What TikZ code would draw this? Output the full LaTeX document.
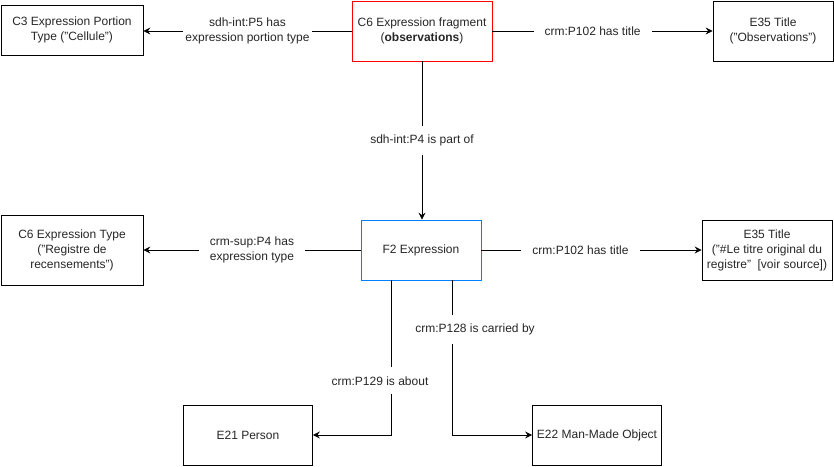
\documentclass[tikz,border=0pt]{standalone}
\usepackage{fontspec}
\setmainfont{Liberation Sans}
\usetikzlibrary{arrows.meta}
\definecolor{boxblue}{RGB}{0,127,255}

\begin{document}
\begin{tikzpicture}[x=1pt,y=-1pt,
    box/.style={draw=black,thick,minimum height=60pt,inner sep=2pt,align=center,
        text=black!85,font=\fontsize{12}{15}\selectfont},
    rel/.style={thick,-{Stealth[length=7pt,width=7pt,inset=2.5pt]}},
    lbl/.style={fill=white,inner xsep=2pt,inner ysep=9pt,align=center,text=black!85,
        font=\fontsize{12}{15}\selectfont},
    wide/.style={inner xsep=11pt}]
    \useasboundingbox (0,0) rectangle (834,466);
    % classes
    \node[box,minimum width=142pt,minimum height=50pt] (c3) at (72,30) {C3 Expression Portion\\Type ("Cellule")};
    \node[box,draw=red,minimum width=140pt] (frag) at (422,31) {C6 Expression fragment\\(\textbf{observations})};
    \node[box,minimum width=120pt] (titleA) at (773,31) {E35 Title\\("Observations")};
    \node[box,minimum width=142pt,minimum height=70pt] (c6type) at (72,250) {C6 Expression Type\\("Registre de\\recensements")};
    \node[box,draw=boxblue,minimum width=120pt] (f2) at (421,250) {F2 Expression};
    \node[box,minimum width=130pt] (titleB) at (767,250) {E35 Title\\("\#Le titre original du\\registre"\ \ [voir source])};
    \node[box,minimum width=129pt] (e21) at (248,435) {E21 Person};
    \node[box,minimum width=129pt] (e22) at (597,435) {E22 Man-Made Object};

    % relations
    \draw[rel] (frag.west) -- node[lbl] {sdh-int:P5 has\\expression portion type} (frag.west -| c3.east);
    \draw[rel] (frag.east) -- node[lbl,wide,pos=.455] {crm:P102 has title} (frag.east -| titleA.west);
    \draw[rel] (frag.south) -- node[lbl] {sdh-int:P4 is part of} (frag.south |- f2.north);
    \draw[rel] (f2.west) -- node[lbl,wide] {crm-sup:P4 has\\expression type} (c6type.east);
    \draw[rel] (f2.east) -- node[lbl,wide,pos=.45] {crm:P102 has title} (titleB.west);
    \draw[rel] ([xshift=-30pt]f2.south) |- node[lbl,pos=.325,xshift=-11pt] {crm:P129 is about} (e21.east);
    \draw[rel] ([xshift=31pt]f2.south) |- node[lbl,pos=.16,xshift=23pt] {crm:P128 is carried by} (e22.west);
\end{tikzpicture}
\end{document}
